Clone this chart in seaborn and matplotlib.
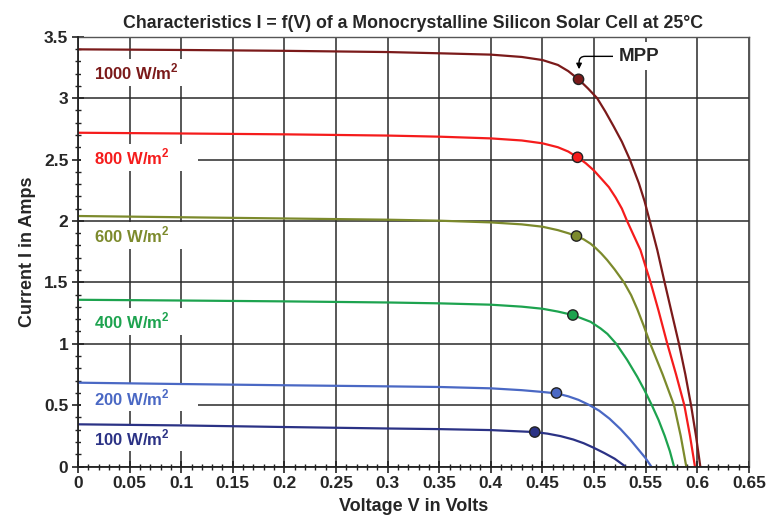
import matplotlib
matplotlib.use("Agg")
import matplotlib.pyplot as plt
import seaborn as sns
import pandas as pd
from matplotlib.ticker import MultipleLocator
from matplotlib.patches import Rectangle

sns.set_style("white")
plt.rcParams['font.family'] = ['Liberation Sans', 'DejaVu Sans']
plt.rcParams['font.weight'] = 'bold'
plt.rcParams['mathtext.fontset'] = 'custom'
plt.rcParams['mathtext.rm'] = 'Liberation Sans:bold'
plt.rcParams['mathtext.bf'] = 'Liberation Sans:bold'

# I-V curves (volts, amps)
v1000 = [0, 0.1, 0.2, 0.3, 0.35, 0.40, 0.43, 0.45, 0.465, 0.475, 0.485, 0.494, 0.503, 0.511, 0.519, 0.527,
         0.5347, 0.5435, 0.549, 0.554, 0.5613, 0.5684, 0.5745, 0.5823, 0.5885, 0.594, 0.5988, 0.603]
i1000 = [3.397, 3.392, 3.385, 3.375, 3.365, 3.354, 3.335, 3.31, 3.27, 3.22, 3.153, 3.08, 3.0, 2.89, 2.77, 2.645,
         2.5, 2.306, 2.16, 2.0, 1.763, 1.5, 1.28, 1.0, 0.75, 0.5, 0.25, 0.0]

v800 = [0, 0.1, 0.2, 0.3, 0.35, 0.40, 0.43, 0.45, 0.465, 0.475, 0.484, 0.492, 0.5, 0.5075, 0.5144, 0.521,
        0.527, 0.532, 0.538, 0.545, 0.5548, 0.5625, 0.571, 0.5795, 0.5875, 0.593, 0.5978]
i800 = [2.718, 2.712, 2.705, 2.695, 2.686, 2.672, 2.655, 2.632, 2.6, 2.565, 2.518, 2.47, 2.41, 2.34, 2.275, 2.19,
        2.1, 2.0, 1.89, 1.763, 1.5, 1.27, 1.0, 0.75, 0.5, 0.25, 0.0]

v600 = [0, 0.1, 0.2, 0.3, 0.35, 0.40, 0.43, 0.45, 0.465, 0.475, 0.483, 0.49, 0.4966, 0.5015, 0.507, 0.5127,
        0.52, 0.529, 0.536, 0.542, 0.548, 0.5545, 0.5665, 0.5775, 0.584, 0.5894]
i600 = [2.04, 2.03, 2.02, 2.01, 2.002, 1.988, 1.972, 1.953, 1.925, 1.9, 1.877, 1.85, 1.815, 1.78, 1.735, 1.682,
        1.605, 1.5, 1.395, 1.28, 1.15, 1.0, 0.75, 0.5, 0.25, 0.0]

v400 = [0, 0.1, 0.2, 0.3, 0.35, 0.40, 0.43, 0.45, 0.465, 0.4795, 0.4966, 0.5063, 0.513, 0.5215, 0.532,
        0.5419, 0.549, 0.556, 0.5625, 0.5685, 0.5735, 0.5775]
i400 = [1.358, 1.352, 1.345, 1.336, 1.329, 1.318, 1.302, 1.285, 1.262, 1.234, 1.179, 1.125, 1.08, 1.0, 0.87,
        0.731, 0.62, 0.5, 0.38, 0.25, 0.125, 0.0]

v200 = [0, 0.1, 0.2, 0.3, 0.35, 0.40, 0.43, 0.448, 0.4636, 0.475, 0.485, 0.495, 0.505, 0.515, 0.5257,
        0.535, 0.5435, 0.55, 0.5555]
i200 = [0.683, 0.672, 0.662, 0.653, 0.648, 0.637, 0.622, 0.609, 0.596, 0.572, 0.543, 0.503, 0.455, 0.39, 0.305,
        0.22, 0.134, 0.068, 0.0]

v100 = [0, 0.1, 0.2, 0.3, 0.35, 0.40, 0.4426, 0.455, 0.4675, 0.48, 0.49, 0.5, 0.51, 0.52, 0.5305]
i100 = [0.344, 0.335, 0.322, 0.31, 0.305, 0.297, 0.281, 0.268, 0.248, 0.22, 0.19, 0.152, 0.11, 0.064, 0.0]

# maximum power points
mpp_v = [0.485, 0.484, 0.483, 0.4795, 0.4636, 0.4426]
mpp_i = [3.153, 2.518, 1.877, 1.234, 0.599, 0.281]

levels = ["1000", "800", "600", "400", "200", "100"]
colors = ["#7b1a1a", "#f51c1c", "#7c8a2c", "#1da34f", "#4a68c4", "#2b3285"]
label_y = [3.21, 2.52, 1.885, 1.185, 0.56, 0.235]

curves = [(v1000, i1000), (v800, i800), (v600, i600), (v400, i400), (v200, i200), (v100, i100)]
frames = []
for name, (v, i) in zip(levels, curves):
    frames.append(pd.DataFrame({"V": v, "I": i, "level": name}))
df = pd.concat(frames, ignore_index=True)
mpp = pd.DataFrame({"V": mpp_v, "I": mpp_i, "level": levels})

fig = plt.figure(figsize=(7.67, 5.25), dpi=100)
ax = fig.add_axes([0.1017, 0.1113, 0.8746, 0.8188])

sns.lineplot(data=df, x="V", y="I", hue="level", hue_order=levels, palette=colors,
             sort=False, estimator=None, linewidth=1.6, legend=False, ax=ax, zorder=3)
sns.scatterplot(data=mpp, x="V", y="I", hue="level", hue_order=levels, palette=colors,
                s=55, edgecolor="#222222", linewidth=1, legend=False, ax=ax, zorder=4)

# labels sit on white panels that hide the grid behind them
for name, y, c in zip(levels, label_y, colors):
    ax.add_patch(Rectangle((0.003, y - 0.11), 0.113, 0.22, fc='white', ec='none', zorder=2))
    ax.text(0.0155, y, name + r" W/m$^\mathbf{2}$", color=c, fontsize=12, fontweight='bold',
            va='center', ha='left', zorder=2.5)

ax.annotate("MPP", xy=(0.4855, 3.235), xytext=(0.524, 3.34), fontsize=13.5, fontweight='bold',
            va='center', ha='left', zorder=2.5,
            bbox=dict(fc='white', ec='none', pad=4),
            arrowprops=dict(arrowstyle='-|>', color='black', lw=1, mutation_scale=8,
                            connectionstyle="angle,angleA=0,angleB=90,rad=6", shrinkA=0, shrinkB=0))

ax.set_xlim(0, 0.65)
ax.set_ylim(0, 3.5)
ax.xaxis.set_minor_locator(MultipleLocator(0.01))
ax.yaxis.set_minor_locator(MultipleLocator(0.1))
ax.set_xticks([k * 0.05 for k in range(14)])
ax.set_xticklabels(["0", "0.05", "0.1", "0.15", "0.2", "0.25", "0.3", "0.35", "0.4", "0.45", "0.5", "0.55", "0.6", "0.65"])
ax.set_yticks([k * 0.5 for k in range(8)])
ax.set_yticklabels(["0", "0.5", "1", "1.5", "2", "2.5", "3", "3.5"])
ax.grid(True, which='major', color='#2a2a2a', linewidth=1.1, zorder=1)
ax.set_axisbelow(True)
ax.tick_params(which='major', direction='inout', length=8, width=1.2, color='#222222',
               labelsize=12.5, pad=3)
ax.tick_params(which='minor', direction='inout', length=5, width=1, color='#222222')
ax.tick_params(axis='x', which='both', bottom=True, top=False)
ax.tick_params(axis='y', which='both', left=True, right=False)
for lab in ax.get_xticklabels() + ax.get_yticklabels():
    lab.set_fontweight('bold')
for side in ['left', 'bottom']:
    ax.spines[side].set_color('#222222')
    ax.spines[side].set_linewidth(1.3)
    ax.spines[side].set_zorder(5)
for side in ['top', 'right']:
    ax.spines[side].set_color('#555555')
    ax.spines[side].set_linewidth(1)

ax.set_xlabel("Voltage V in Volts", fontsize=13, fontweight='bold', labelpad=5)
ax.set_ylabel("Current I in Amps", fontsize=13, fontweight='bold', labelpad=6)
ax.set_title("Characteristics I = f(V) of a Monocrystalline Silicon Solar Cell at 25°C",
             fontsize=12.8, fontweight='bold', pad=6)

fig.savefig("out.png", dpi=100)
